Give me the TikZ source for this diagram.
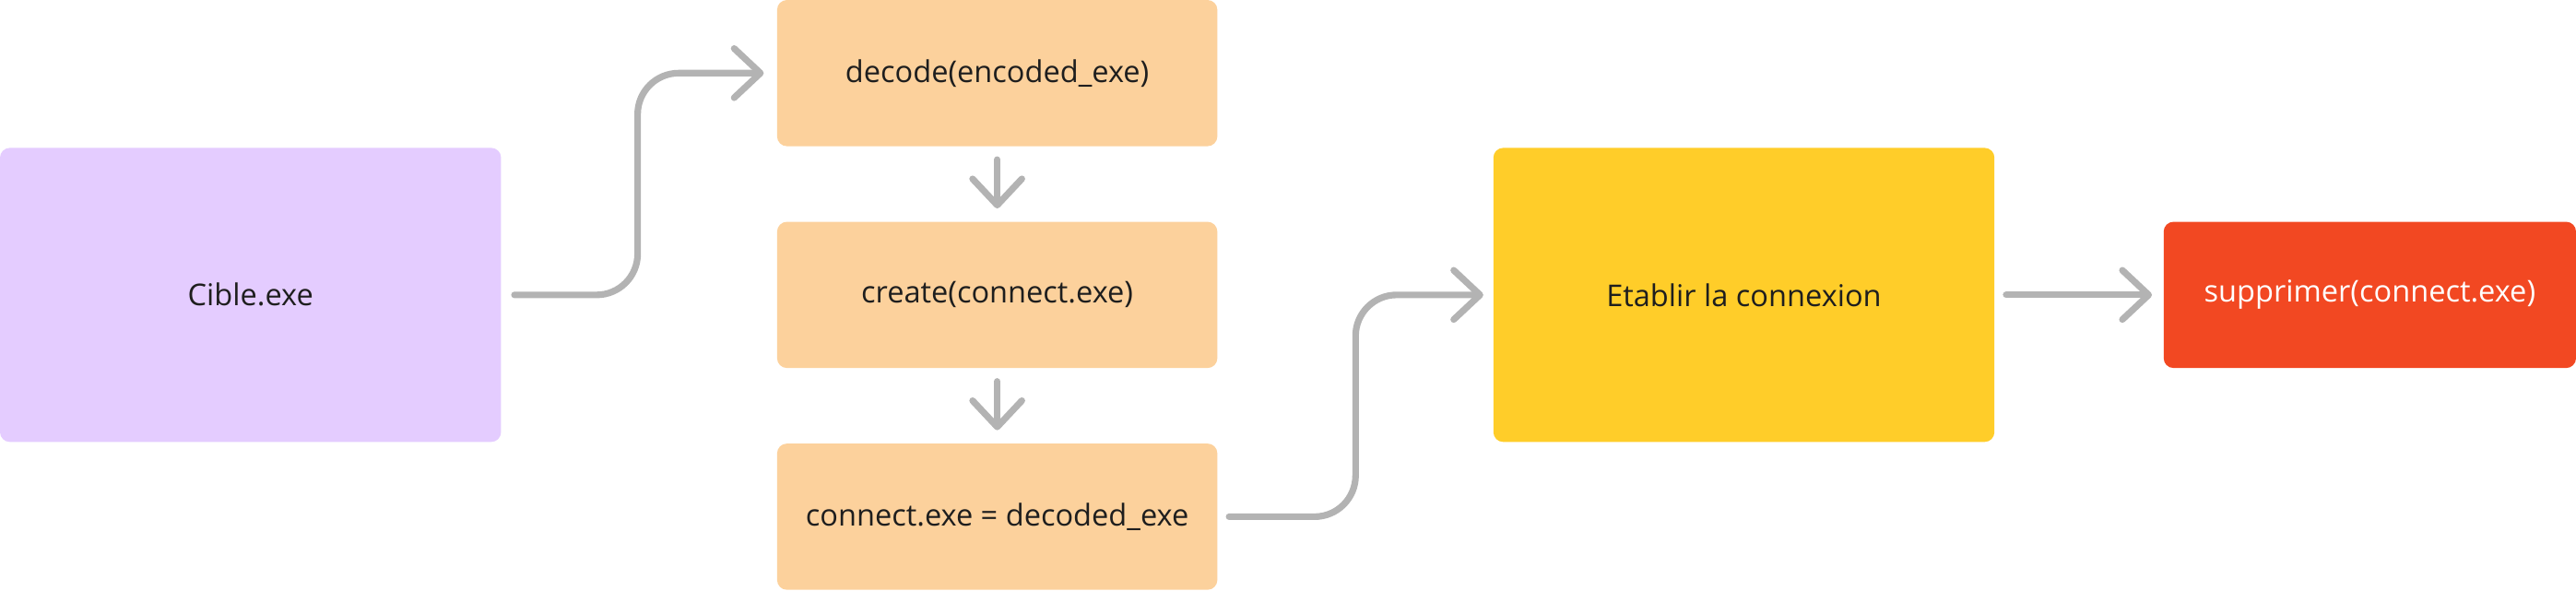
\documentclass[tikz,border=0pt]{standalone}
\usepackage{fontspec}
\setmainfont{Open Sans}
\usetikzlibrary{arrows.meta,calc}
\definecolor{cpurple}{HTML}{E4CCFF}
\definecolor{corange}{HTML}{FCD19C}
\definecolor{cyellow}{HTML}{FFCD29}
\definecolor{cred}{HTML}{F24822}
\definecolor{cgray}{HTML}{B3B3B3}
\definecolor{ctext}{HTML}{1E1E1E}
\begin{document}
\begin{tikzpicture}[x=0.05cm,y=-0.05cm,
  box/.style={rectangle, rounded corners=0.3cm, inner sep=0pt, font=\fontsize{26}{30}\selectfont, text=ctext},
  bigbox/.style={box, minimum width=15.25cm, minimum height=8.95cm},
  stepbox/.style={box, fill=corange, minimum width=13.4cm, minimum height=4.45cm},
  conn/.style={draw=cgray, line width=0.2cm, line cap=round, line join=round, rounded corners=1.25cm,
    -{Straight Barb[length=0.8cm,width=1.5cm,line cap=round,line join=round]}}]
\useasboundingbox (0,0) rectangle (1568,359.2);
\fill[white] (0,0) rectangle (1568,359.2);

\node[bigbox, fill=cpurple] (cible) at (152.5,179.5) {Cible.exe};
\node[stepbox] (d1) at (607,44.5) {decode(encoded\_exe)};
\node[stepbox] (d2) at (607,179.5) {create(connect.exe)};
\node[stepbox] (d3) at (607,314.5) {connect.exe = decoded\_exe};
\node[bigbox, fill=cyellow] (etab) at (1061.5,179.5) {Etablir la connexion};
\node[box, fill=cred, text=white, minimum width=12.55cm, minimum height=4.45cm] (supp) at (1442.5,179.5) {supprimer(connect.exe)};

\draw[conn] ($(cible.east)+(8,0)$) -- ++(75,0) |- ($(d1.west)+(-8,0)$);
\draw[conn] ($(d1.south)+(0,8)$) -- ($(d2.north)+(0,-8)$);
\draw[conn] ($(d2.south)+(0,8)$) -- ($(d3.north)+(0,-8)$);
\draw[conn] ($(d3.east)+(7,0)$) -- ++(77,0) |- ($(etab.west)+(-6,0)$);
\draw[conn] ($(etab.east)+(7,0)$) -- ($(supp.west)+(-7,0)$);
\end{tikzpicture}
\end{document}
